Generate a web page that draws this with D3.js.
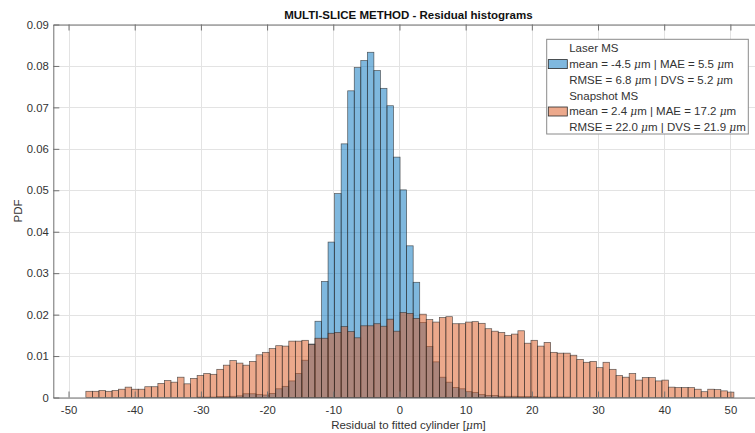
<!DOCTYPE html>
<html>
<head>
<meta charset="utf-8">
<script src="https://cdn.jsdelivr.net/npm/d3@7"></script>
<style>
  body { margin: 0; background: #fff; }
  svg { display: block; font-family: "Liberation Sans", Arial, Helvetica, sans-serif; }
</style>
</head>
<body>
<div id="chart"></div>
<script>
// histogram bin limits (residual, um) shared by both series: 99 bins
const binLow = -47.38;
const binHigh = 50.53;

// PDF per bin
const laserPdf = [
  0, 0, 0, 0, 0, 0, 0, 0, 0, 0,
  0, 0, 0, 0, 0, 0, 0, 0.0001, 0.0001, 0.0001,
  0.0002, 0.0002, 0.0003, 0.0004, 0.0009, 0.0009, 0.0007, 0.0006, 0.0010, 0.0021,
  0.0027, 0.0040, 0.0058, 0.0090, 0.0129, 0.0184, 0.0280, 0.0375, 0.0492, 0.0612,
  0.0740, 0.0796, 0.0813, 0.0833, 0.0789, 0.0746, 0.0704, 0.0580, 0.0501, 0.0366,
  0.0278, 0.0181, 0.0123, 0.0086, 0.0049, 0.0037, 0.0024, 0.0021, 0.0014, 0.0012,
  0.0007, 0.0005, 0.0005, 0.0003, 0.0003, 0.0003, 0.0002, 0.0002, 0.0002, 0.0001,
  0.0001, 0.0001, 0.0001, 0.0001, 0, 0, 0, 0, 0, 0,
  0, 0, 0, 0, 0, 0, 0, 0, 0, 0,
  0, 0, 0, 0, 0, 0, 0, 0, 0
];

const snapshotPdf = [
  0.0015, 0.0015, 0.0017, 0.0015, 0.0017, 0.0020, 0.0025, 0.0020, 0.0020, 0.0026,
  0.0026, 0.0034, 0.0041, 0.0037, 0.0049, 0.0033, 0.0046, 0.0053, 0.0058, 0.0056,
  0.0068, 0.0078, 0.0089, 0.0083, 0.0078, 0.0087, 0.0103, 0.0109, 0.0118, 0.0125,
  0.0124, 0.0136, 0.0136, 0.0138, 0.0128, 0.0143, 0.0143, 0.0155, 0.0157, 0.0171,
  0.0159, 0.0144, 0.0173, 0.0173, 0.0178, 0.0172, 0.0189, 0.0160, 0.0205, 0.0203,
  0.0191, 0.0201, 0.0188, 0.0182, 0.0193, 0.0195, 0.0178, 0.0178, 0.0182, 0.0183,
  0.0179, 0.0166, 0.0160, 0.0157, 0.0150, 0.0153, 0.0161, 0.0131, 0.0138, 0.0124,
  0.0133, 0.0109, 0.0107, 0.0107, 0.0102, 0.0092, 0.0085, 0.0087, 0.0072, 0.0085,
  0.0068, 0.0053, 0.0049, 0.0058, 0.0042, 0.0048, 0.0048, 0.0040, 0.0042, 0.0025,
  0.0024, 0.0024, 0.0024, 0.0020, 0.0014, 0.0020, 0.0019, 0.0016, 0.0013
];

const xTicks = [-50, -40, -30, -20, -10, 0, 10, 20, 30, 40, 50];
const yTicks = [0, 0.01, 0.02, 0.03, 0.04, 0.05, 0.06, 0.07, 0.08, 0.09];

const legendLines = [
  'Laser MS',
  'mean = -4.5 μm | MAE = 5.5 μm',
  'RMSE = 6.8 μm | DVS = 5.2 μm',
  'Snapshot MS',
  'mean = 2.4 μm | MAE = 17.2 μm',
  'RMSE = 22.0 μm | DVS = 21.9 μm'
];

const W = 755, H = 433;
const plot = { left: 53.3, right: 763.5, top: 24.5, bottom: 397.5 };
const blue = 'rgb(0,114,189)';
const orange = 'rgb(217,83,25)';
const faceAlpha = 0.5;
const axisCol = '#707070';
const textCol = '#333';

const svg = d3.select('#chart').append('svg')
  .attr('width', W)
  .attr('height', H);

const x = d3.scaleLinear().domain([-52.3, 55]).range([plot.left, plot.right]);
const y = d3.scaleLinear().domain([0, 0.09]).range([plot.bottom, plot.top]);

// grid
const grid = svg.append('g').attr('stroke', '#e3e3e3').attr('stroke-width', 1);
grid.selectAll('line.gx').data(xTicks).join('line')
  .attr('x1', d => Math.round(x(d)) + 0.5).attr('x2', d => Math.round(x(d)) + 0.5)
  .attr('y1', plot.top).attr('y2', plot.bottom);
grid.selectAll('line.gy').data(yTicks).join('line')
  .attr('y1', d => Math.round(y(d)) + 0.5).attr('y2', d => Math.round(y(d)) + 0.5)
  .attr('x1', plot.left).attr('x2', plot.right);

// bars
const binW = (binHigh - binLow) / snapshotPdf.length;
function drawHist(values, color) {
  const bins = values.map((v, i) => ({ x0: binLow + i * binW, x1: binLow + (i + 1) * binW, v }));
  svg.append('g').selectAll('rect').data(bins).join('rect')
    .attr('x', d => x(d.x0))
    .attr('width', d => x(d.x1) - x(d.x0))
    .attr('y', d => y(d.v))
    .attr('height', d => y(0) - y(d.v))
    .attr('fill', color)
    .attr('fill-opacity', faceAlpha)
    .attr('stroke', '#2a2a2a')
    .attr('stroke-opacity', 0.75)
    .attr('stroke-width', 0.7);
}
drawHist(laserPdf, blue);
drawHist(snapshotPdf, orange);

// axes (ticks inside, box on)
function styleAxis(g) {
  g.selectAll('path.domain').attr('stroke', axisCol);
  g.selectAll('.tick line').attr('stroke', axisCol);
  g.selectAll('.tick text').attr('fill', textCol).attr('font-size', 11.3);
}

svg.append('g')
  .attr('transform', `translate(0,${plot.bottom})`)
  .call(d3.axisBottom(x).tickValues(xTicks).tickSizeInner(-6).tickSizeOuter(0).tickPadding(8).tickFormat(d => String(d)))
  .call(styleAxis);

svg.append('g')
  .attr('transform', `translate(0,${plot.top})`)
  .call(d3.axisTop(x).tickValues(xTicks).tickSizeInner(-6).tickSizeOuter(0).tickFormat(''))
  .call(styleAxis);

svg.append('g')
  .attr('transform', `translate(${plot.left},0)`)
  .call(d3.axisLeft(y).tickValues(yTicks).tickSizeInner(-6).tickSizeOuter(0).tickPadding(4.5)
    .tickFormat(d => d === 0 ? '0' : d3.format('.2f')(d)))
  .call(styleAxis);

svg.append('g')
  .attr('transform', `translate(${plot.right},0)`)
  .call(d3.axisRight(y).tickValues(yTicks).tickSizeInner(-6).tickSizeOuter(0).tickFormat(''))
  .call(styleAxis);

// title and labels
const midX = (plot.left + plot.right) / 2;
svg.append('text')
  .attr('x', midX).attr('y', 15)
  .attr('text-anchor', 'middle').attr('dominant-baseline', 'central')
  .attr('font-size', 11.5).attr('font-weight', 'bold').attr('fill', '#111')
  .text('MULTI-SLICE METHOD - Residual histograms');

function richText(sel, str) {
  str.split('μ').forEach((part, i) => {
    if (i > 0) sel.append('tspan').attr('font-style', 'italic').attr('font-family', '"DejaVu Serif", serif').attr('font-size', '0.92em').text('μ');
    sel.append('tspan').text(part);
  });
}

const xl = svg.append('text')
  .attr('x', midX).attr('y', 425)
  .attr('text-anchor', 'middle').attr('dominant-baseline', 'central')
  .attr('font-size', 11.5).attr('fill', textCol);
richText(xl, 'Residual to fitted cylinder [μm]');

svg.append('text')
  .attr('transform', `translate(17.5,${(plot.top + plot.bottom) / 2}) rotate(-90)`)
  .attr('text-anchor', 'middle').attr('dominant-baseline', 'central')
  .attr('font-size', 11.5).attr('fill', textCol)
  .text('PDF');

// legend
const lg = svg.append('g').attr('transform', 'translate(546.7,39.3)');
lg.append('rect')
  .attr('width', 201.6).attr('height', 94.7)
  .attr('fill', '#fff').attr('stroke', '#8a8a8a').attr('stroke-width', 1);

const rowY = d3.scaleLinear().domain([0, legendLines.length - 1]).range([9, 88]);
const swatches = [{ row: 1, color: blue }, { row: 4, color: orange }];
lg.selectAll('rect.sw').data(swatches).join('rect')
  .attr('x', 1.6).attr('width', 19)
  .attr('y', d => rowY(d.row) - 4.5).attr('height', 9)
  .attr('fill', d => d.color).attr('fill-opacity', faceAlpha)
  .attr('stroke', '#2a2a2a').attr('stroke-width', 0.8);

legendLines.forEach((line, i) => {
  const t = lg.append('text')
    .attr('x', 22.5).attr('y', rowY(i))
    .attr('dominant-baseline', 'central')
    .attr('font-size', 11.5).attr('fill', textCol);
  richText(t, line);
});
</script>
</body>
</html>
